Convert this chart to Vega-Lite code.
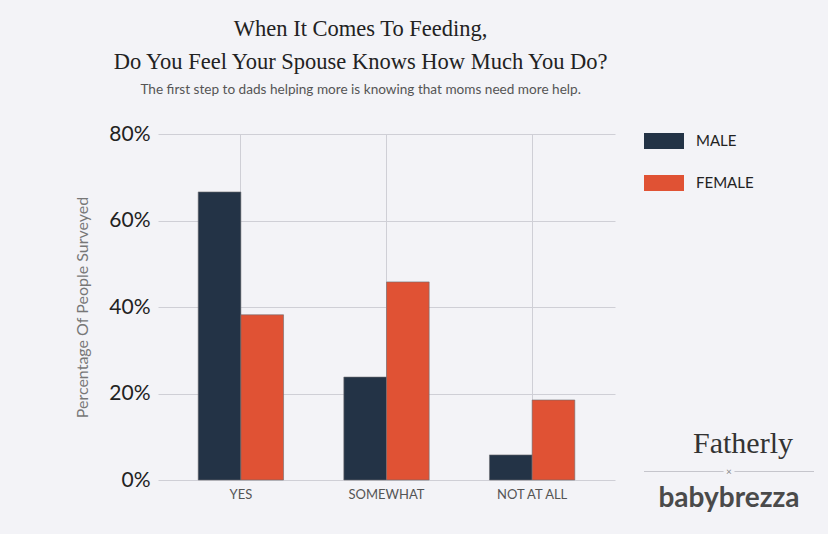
{
  "$schema": "https://vega.github.io/schema/vega-lite/v6.json",
  "background": "#f3f3f7",
  "padding": {"left": 74, "top": 17, "right": 16, "bottom": 30},
  "title": {
    "text": ["When It Comes To Feeding,", "Do You Feel Your Spouse Knows How Much You Do?"],
    "subtitle": "The first step to dads helping more is knowing that moms need more help.",
    "font": "Liberation Serif",
    "fontSize": 22.5,
    "fontWeight": "normal",
    "color": "#222222",
    "lineHeight": 33,
    "subtitleFont": "Lato",
    "subtitleFontSize": 13.6,
    "subtitleColor": "#555555",
    "subtitlePadding": 10,
    "anchor": "middle",
    "offset": 24,
    "dx": -84
  },
  "config": {"view": {"stroke": null}, "concat": {"spacing": 28}},
  "hconcat": [
    {
      "width": 457,
      "height": 346,
      "data": {
        "values": [
          {"answer": "YES", "gender": "MALE", "share": 0.666},
          {"answer": "YES", "gender": "FEMALE", "share": 0.382},
          {"answer": "SOMEWHAT", "gender": "MALE", "share": 0.238},
          {"answer": "SOMEWHAT", "gender": "FEMALE", "share": 0.458},
          {"answer": "NOT AT ALL", "gender": "MALE", "share": 0.058},
          {"answer": "NOT AT ALL", "gender": "FEMALE", "share": 0.185}
        ]
      },
      "mark": {"type": "bar", "stroke": "#6b6b70", "strokeWidth": 0.6},
      "encoding": {
        "x": {
          "field": "answer",
          "type": "nominal",
          "sort": ["YES", "SOMEWHAT", "NOT AT ALL"],
          "scale": {"paddingInner": 0.414, "paddingOuter": 0.276},
          "axis": {
            "title": null,
            "labelAngle": 0,
            "domain": false,
            "ticks": false,
            "grid": true,
            "gridColor": "#cfcfd6",
            "labelFont": "Lato",
            "labelFontSize": 13,
            "labelColor": "#555555",
            "labelPadding": 8
          }
        },
        "xOffset": {"field": "gender", "type": "nominal", "sort": ["MALE", "FEMALE"]},
        "y": {
          "field": "share",
          "type": "quantitative",
          "scale": {"domain": [0, 0.8]},
          "axis": {
            "values": [0, 0.2, 0.4, 0.6, 0.8],
            "format": ".0%",
            "title": "Percentage Of People Surveyed",
            "titleFont": "Lato",
            "titleFontSize": 16,
            "titleFontWeight": "normal",
            "titleColor": "#777777",
            "titlePadding": 18,
            "domain": false,
            "ticks": false,
            "gridColor": "#cfcfd6",
            "labelFont": "Lato",
            "labelFontSize": 21,
            "labelColor": "#222222",
            "labelPadding": 8
          }
        },
        "color": {
          "field": "gender",
          "type": "nominal",
          "sort": ["MALE", "FEMALE"],
          "scale": {"range": ["#233346", "#e05234"]},
          "legend": {
            "orient": "none",
            "legendX": 486,
            "legendY": -13,
            "title": null,
            "symbolType": "M-1,-0.4H1V0.4H-1Z",
            "symbolSize": 1600,
            "symbolStrokeWidth": 0,
            "symbolOpacity": 1,
            "labelFont": "Lato",
            "labelFontSize": 15,
            "labelColor": "#222222",
            "labelOffset": 12,
            "rowPadding": 14,
            "padding": 0
          }
        }
      }
    },
    {
      "width": 170,
      "height": 346,
      "data": {"values": [{"logo": "Fatherly"}, {"logo": "×"}, {"logo": "babybrezza"}]},
      "encoding": {
        "y": {
          "field": "logo",
          "type": "nominal",
          "scale": {"type": "point", "domain": ["Fatherly", "×", "babybrezza"], "range": [310, 365], "padding": 0},
          "axis": null
        }
      },
      "layer": [
        {
          "transform": [{"filter": "datum.logo === '×'"}],
          "mark": {"type": "rule", "color": "#c5c5cc", "strokeWidth": 1}
        },
        {
          "transform": [{"filter": "datum.logo === '×'"}],
          "mark": {"type": "point", "shape": "square", "filled": true, "color": "#f3f3f7", "opacity": 1, "size": 120}
        },
        {
          "transform": [{"filter": "datum.logo === '×'"}],
          "mark": {"type": "text", "font": "Lato", "fontSize": 10, "color": "#888888"},
          "encoding": {"text": {"field": "logo"}}
        },
        {
          "transform": [{"filter": "datum.logo === 'Fatherly'"}],
          "mark": {"type": "text", "font": "Liberation Serif", "fontSize": 30, "color": "#333333", "dx": 14},
          "encoding": {"text": {"field": "logo"}}
        },
        {
          "transform": [{"filter": "datum.logo === 'babybrezza'"}],
          "mark": {"type": "text", "font": "Lato", "fontWeight": "bold", "fontSize": 28, "color": "#4a4a4a"},
          "encoding": {"text": {"field": "logo"}}
        }
      ]
    }
  ]
}
